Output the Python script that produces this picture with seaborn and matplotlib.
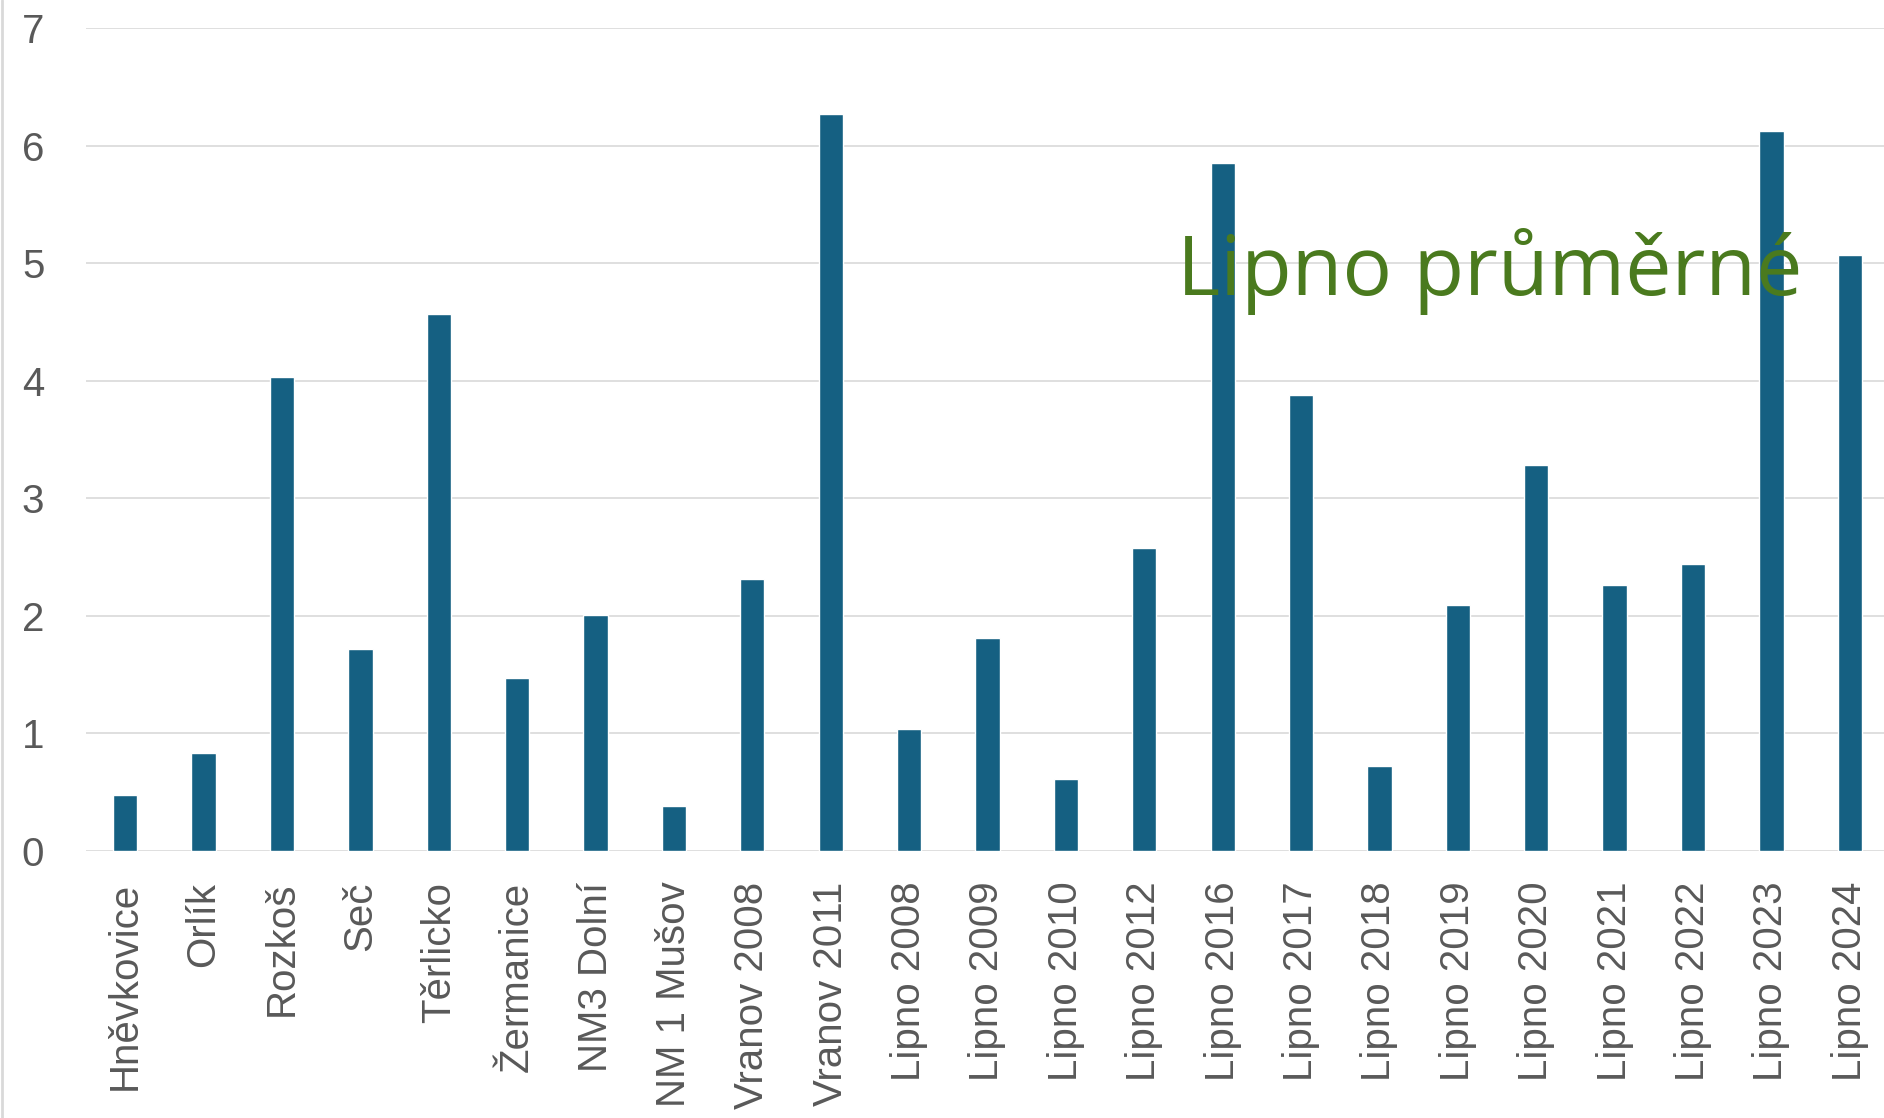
import seaborn as sns
import matplotlib.pyplot as plt
import pandas as pd
from matplotlib.lines import Line2D

nadrze = ['Hněvkovice', 'Orlík', 'Rozkoš', 'Seč', 'Těrlicko', 'Žermanice',
          'NM3 Dolní', 'NM 1 Mušov', 'Vranov 2008', 'Vranov 2011',
          'Lipno 2008', 'Lipno 2009', 'Lipno 2010', 'Lipno 2012', 'Lipno 2016',
          'Lipno 2017', 'Lipno 2018', 'Lipno 2019', 'Lipno 2020', 'Lipno 2021',
          'Lipno 2022', 'Lipno 2023', 'Lipno 2024']
hodnoty = [0.48, 0.83, 4.03, 1.72, 4.57, 1.47, 2.01, 0.38, 2.31, 6.27,
           1.04, 1.81, 0.61, 2.58, 5.85, 3.88, 0.72, 2.09, 3.28, 2.26,
           2.44, 6.12, 5.07]
popisek = 'Lipno průměrné'

df = pd.DataFrame({'nadrz': nadrze, 'hodnota': hodnoty})

sns.set_theme(style='white')
plt.rcParams['font.family'] = ['Liberation Sans', 'DejaVu Sans']

fig = plt.figure(figsize=(18.84, 11.18), dpi=100)
ax = fig.add_axes([86 / 1884, 267 / 1118, 1803 / 1884, 823 / 1118])

sns.barplot(data=df, x='nadrz', y='hodnota', color='#156082',
            saturation=1, width=0.31, ax=ax)

ax.set_xlim(-0.5, len(nadrze) - 0.5)
ax.set_ylim(0, 7)
ax.set_yticks(range(0, 8))
ax.yaxis.grid(True, color='#d9d9d9', linewidth=1.2)
ax.set_axisbelow(True)
for s in ax.spines.values():
    s.set_visible(False)
ax.set_xlabel('')
ax.set_ylabel('')
ax.tick_params(axis='x', labelrotation=90, length=0, pad=22,
               labelsize=29, labelcolor='#595959')
ax.tick_params(axis='y', length=0, pad=30, labelsize=29,
               labelcolor='#595959')
for lbl in ax.get_yticklabels():
    lbl.set_horizontalalignment('right')

ax.text(13.42, 4.73, popisek, color='#4a7a1e', fontsize=59.5,
        family=['Open Sans', 'DejaVu Sans'], va='baseline', ha='left')

# svisla cara na levem okraji
fig.add_artist(Line2D([0.001, 0.001], [0, 1], transform=fig.transFigure,
                      color='#d9d9d9', linewidth=2))

fig.savefig('out.png', dpi=100)
